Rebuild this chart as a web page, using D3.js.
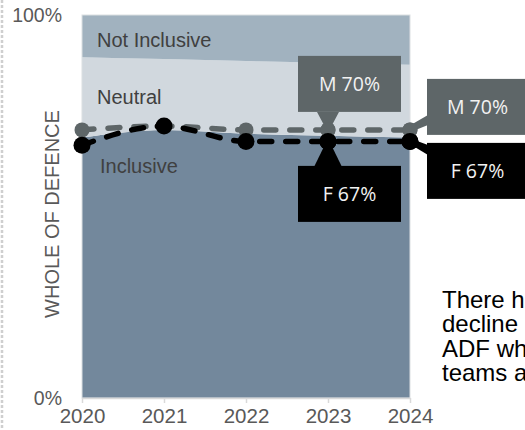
<!DOCTYPE html>
<html>
<head>
<meta charset="utf-8">
<script src="https://cdn.jsdelivr.net/npm/d3@7/dist/d3.min.js"></script>
<style>
  html, body { margin: 0; padding: 0; background: #fff; overflow: hidden; }
  svg { display: block; }
</style>
</head>
<body>
<svg id="chart" width="525" height="430"></svg>
<script>
// Survey years
const years = [2020, 2021, 2022, 2023, 2024];

// Whole of Defence perception of team inclusion (stacked shares, %)
const inclusive    = [68, 70, 69, 68.5, 68];
const neutral      = [21, 18.5, 19, 19, 19];
const notInclusive = [11, 11.5, 12, 12.5, 13];

// Inclusive share by gender (%)
const male   = [70, 71, 70, 70, 70];
const female = [66, 71, 67, 67, 67];

// Axis tick labels
const yTicks = [0, 100];
const yTickLabels = ["0%", "100%"];
const xTickLabels = ["2020", "2021", "2022", "2023", "2024"];

// Band names and commentary text
const bandNames = ["Inclusive", "Neutral", "Not Inclusive"];
const commentary = [
  "There has been a slight",
  "decline in members of the",
  "ADF who feel that their",
  "teams are inclusive."
];

const svg = d3.select("#chart");
const W = 525, H = 430;
const plot = { left: 82, right: 410, top: 15, bottom: 398 };

const x = d3.scaleLinear().domain([2020, 2024]).range([plot.left, plot.right]);
const y = d3.scaleLinear().domain([0, 100]).range([plot.bottom, plot.top]);

const colours = {
  "Inclusive": "#73889c",
  "Neutral": "#d1d8de",
  "Not Inclusive": "#a1b2bf"
};
const maleColour = "#5e6668";
const femaleColour = "#000000";

// Dotted slide-edge rule on the far left
svg.append("line")
  .attr("x1", 2).attr("x2", 2).attr("y1", 0).attr("y2", H)
  .attr("stroke", "#cfcfcf").attr("stroke-width", 2.5)
  .attr("stroke-dasharray", "3,2");

// Stacked areas
const rows = years.map((yr, i) => ({
  year: yr,
  "Inclusive": inclusive[i],
  "Neutral": neutral[i],
  "Not Inclusive": notInclusive[i]
}));
const stack = d3.stack().keys(bandNames);
const layers = stack(rows);
const area = d3.area()
  .x(d => x(d.data.year))
  .y0(d => y(d[0]))
  .y1(d => y(d[1]))
  .curve(d3.curveMonotoneX);

svg.append("g").selectAll("path")
  .data(layers)
  .join("path")
  .attr("d", area)
  .attr("fill", d => colours[d.key]);

// Light frame round the plot
svg.append("rect")
  .attr("x", plot.left).attr("y", plot.top)
  .attr("width", plot.right - plot.left).attr("height", plot.bottom - plot.top)
  .attr("fill", "none").attr("stroke", "#dcdfe2").attr("stroke-width", 1);

// X axis
const xAxis = d3.axisBottom(x)
  .tickValues(years)
  .tickFormat((d, i) => xTickLabels[i])
  .tickSize(5)
  .tickSizeOuter(0);
const gx = svg.append("g")
  .attr("transform", `translate(0,${plot.bottom})`)
  .call(xAxis);
gx.select(".domain").attr("stroke", "#d9d9d9").attr("stroke-width", 1.5);
gx.selectAll(".tick line").attr("stroke", "#d9d9d9").attr("stroke-width", 1.5);
gx.selectAll(".tick text")
  .attr("y", 17.5)
  .attr("dy", "0.35em")
  .attr("fill", "#595959")
  .style("font-family", "'Liberation Sans', Arial, sans-serif")
  .style("font-size", "20.5px");

// Y axis (labels only)
const yAxis = d3.axisLeft(y)
  .tickValues(yTicks)
  .tickFormat((d, i) => yTickLabels[i])
  .tickSize(0);
const gy = svg.append("g")
  .attr("transform", `translate(${plot.left},0)`)
  .call(yAxis);
gy.select(".domain").remove();
gy.selectAll(".tick text")
  .attr("x", -20)
  .attr("dy", "0.35em")
  .attr("fill", "#595959")
  .style("font-family", "'Liberation Sans', Arial, sans-serif")
  .style("font-size", "19.5px");

// Y axis title
svg.append("text")
  .attr("transform", `translate(59,214) rotate(-90)`)
  .attr("text-anchor", "middle")
  .attr("fill", "#595959")
  .style("font-family", "'Liberation Sans', Arial, sans-serif")
  .style("font-size", "20px")
  .text("WHOLE OF DEFENCE");

// Band labels
const bandLabel = (txt, px, py) => svg.append("text")
  .attr("x", px).attr("y", py)
  .attr("fill", "#404040")
  .style("font-family", "'Liberation Sans', Arial, sans-serif")
  .style("font-size", "20px")
  .text(txt);
bandLabel(bandNames[2], 97, 47);
bandLabel(bandNames[1], 97, 104);
bandLabel(bandNames[0], 100, 173);

// Gender lines
const line = d3.line()
  .x((d, i) => x(years[i]))
  .y(d => y(d))
  .curve(d3.curveMonotoneX);

function drawSeries(values, colour, r) {
  svg.append("path")
    .datum(values)
    .attr("d", line)
    .attr("fill", "none")
    .attr("stroke", colour)
    .attr("stroke-width", 5.5)
    .attr("stroke-linecap", "round")
    .attr("stroke-dasharray", "12,14");
  svg.append("g").selectAll("circle")
    .data(values)
    .join("circle")
    .attr("cx", (d, i) => x(years[i]))
    .attr("cy", d => y(d))
    .attr("r", r)
    .attr("fill", colour);
}
drawSeries(male, maleColour, 7.5);
drawSeries(female, femaleColour, 8.5);

// Value callouts
const boxW = 103, boxH = 56;
const labelFont = "'Open Sans', 'Noto Sans', sans-serif";

function callout(prefix, values, idx, colour, placement) {
  const v = values[idx];
  const px = x(years[idx]);
  const py = y(v);
  let bx, by, pointer;
  if (placement === "above") {
    bx = px - 30; by = py - 74;
    pointer = [[px - 11, by + boxH], [px + 11, by + boxH], [px + 3, py - 3], [px - 3, py - 3]];
  } else if (placement === "below") {
    bx = px - 30; by = py + 24.5;
    pointer = [[px - 3, py + 3], [px + 3, py + 3], [px + 14, by + 1], [px - 14, by + 1]];
  } else if (placement === "rightUp") {
    bx = px + 17; by = py - 51;
    pointer = [[px - 1, py - 4], [bx + 1, by + 36], [bx + 1, by + 46], [px + 3, py + 1]];
  } else {
    bx = px + 17; by = py + 1.5;
    pointer = [[px - 1, py + 2], [px + 3, py - 2], [bx + 1, by + 2], [bx + 1, by + 12]];
  }
  svg.append("polygon")
    .attr("points", pointer.map(p => p.join(",")).join(" "))
    .attr("fill", colour);
  svg.append("circle")
    .attr("cx", px).attr("cy", py)
    .attr("r", placement === "above" || placement === "rightUp" ? 7.5 : 8.5)
    .attr("fill", colour);
  svg.append("rect")
    .attr("x", bx).attr("y", by)
    .attr("width", boxW).attr("height", boxH)
    .attr("fill", colour);
  svg.append("text")
    .attr("x", bx + boxW / 2 - (placement.startsWith("right") ? 1 : 0))
    .attr("y", by + boxH / 2)
    .attr("dy", "0.36em")
    .attr("text-anchor", "middle")
    .attr("fill", "#f2f2f2")
    .style("font-family", labelFont)
    .style("font-size", "19.5px")
    .text(`${prefix} ${d3.format("d")(v)}%`);
}
callout("M", male, 3, maleColour, "above");
callout("F", female, 3, femaleColour, "below");
callout("M", male, 4, maleColour, "rightUp");
callout("F", female, 4, femaleColour, "rightDown");

// Commentary text to the right of the chart
svg.append("text")
  .attr("x", 442)
  .attr("y", 308)
  .attr("fill", "#000")
  .style("font-family", "'Liberation Sans', Arial, sans-serif")
  .style("font-size", "24px")
  .selectAll("tspan")
  .data(commentary)
  .join("tspan")
  .attr("x", 442)
  .attr("dy", (d, i) => i === 0 ? 0 : 24.4)
  .text(d => d);
</script>
</body>
</html>
